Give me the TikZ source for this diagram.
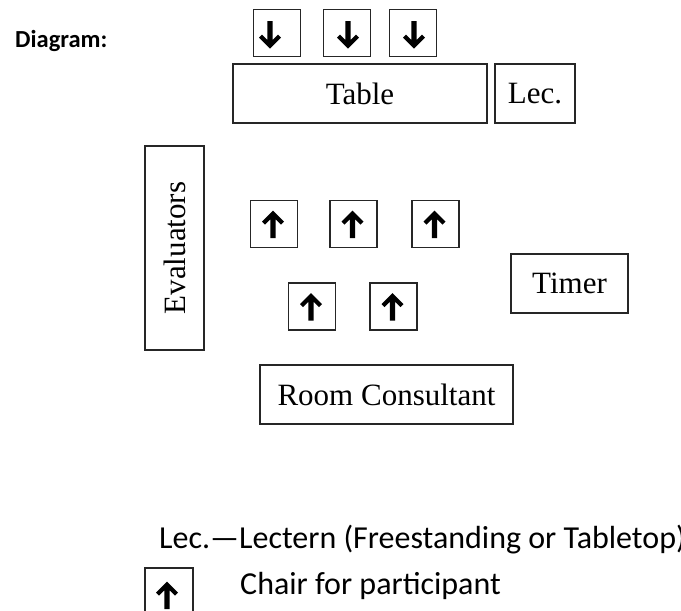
\documentclass[tikz,border=0pt]{standalone}
\usepackage{fontspec}
\setmainfont{Liberation Serif}
\newfontfamily\calibri{Carlito}
\usepackage{tikz}
\usetikzlibrary{positioning,calc}

\tikzset{
    room/.style={draw=black!85, line width=1.2pt, inner sep=0pt,
        font=\fontsize{31}{36}\selectfont},
    chair/.style={draw=black!85, line width=1.2pt, inner sep=0pt,
        minimum width=47pt, minimum height=47pt},
    legend/.style={anchor=base west, inner sep=0pt,
        font=\calibri\fontsize{32}{38}\selectfont},
    % thick arrow inside a chair, drawn pointing up
    chairarrow/.pic={
        \fill[black] (0,-13.5) -- (11,-2.5) -- (8,0.5) -- (2.7,-4.8)
            -- (2.7,14) -- (-2.7,14) -- (-2.7,-4.8) -- (-8,0.5)
            -- (-11,-2.5) -- cycle;
    }
}

\begin{document}
\begin{tikzpicture}[x=1pt,y=-1pt]
    \useasboundingbox (0,0) rectangle (681,611);
    \clip (0,0) rectangle (681,611);

    \node[anchor=base west, inner sep=0pt, font=\calibri\bfseries\fontsize{24.5}{28}\selectfont]
        (title) at (15,47) {Diagram:};

    % chairs behind the table, facing down
    \node[chair] (down1) at (277,33) {};
    \node[chair] (down2) at (347,33) {};
    \node[chair] (down3) at (413,33) {};
    \pic[yscale=-1] at ($(down1.center)+(-7,2)$) {chairarrow};
    \foreach \c in {down2,down3}{%
        \pic[yscale=-1] at ($(\c.center)+(1,2)$) {chairarrow};
    }

    % front of the room
    \node[room, minimum width=254pt, minimum height=59pt] (table) at (360,93.5) {Table};
    \node[room, minimum width=80pt, minimum height=59pt] (lec) at (535,93.5) {Lec.};

    \node[room, minimum width=204pt, minimum height=59pt, rotate=90] (eval) at (174.5,248) {Evaluators};

    % participants, facing up
    \node[chair] (up1) at (274,224) {};
    \node[chair] (up2) at (353.5,224) {};
    \node[chair] (up3) at (435.5,224) {};
    \node[chair] (up4) at (312,306.5) {};
    \node[chair] (up5) at (393.5,306.5) {};
    \foreach \c in {up1,up2,up3,up4,up5}{%
        \pic at ($(\c.center)+(-1,0)$) {chairarrow};
    }

    \node[room, minimum width=117pt, minimum height=59pt] (timer) at (569.5,283.5) {Timer};
    \node[room, minimum width=253pt, minimum height=59pt] (consult) at (386.5,394.5) {Room Consultant};

    % legend
    \node[legend] (leclegend) at (159,548) {Lec.\textemdash Lectern (Freestanding or Tabletop)};
    \node[chair, minimum width=48pt, minimum height=48pt] (chairlegend) at (169,592) {};
    \pic at ($(chairlegend.center)+(-2,3)$) {chairarrow};
    \node[legend] (chairtext) at (240,594) {Chair for participant};
\end{tikzpicture}
\end{document}
